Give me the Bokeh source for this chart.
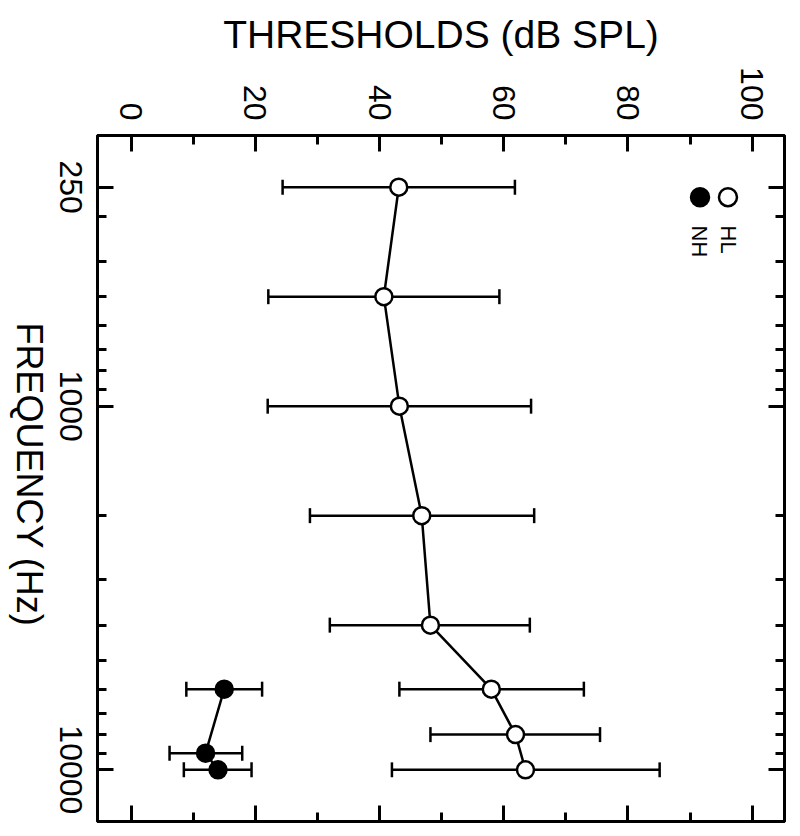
import math
from bokeh.plotting import figure
from bokeh.layouts import row
from bokeh.models import (Range1d, FixedTicker, LinearAxis, LogAxis, Label,
                          ColumnDataSource, CustomJSTickFormatter)
from bokeh.core.properties import value
from bokeh.embed import file_html
from bokeh.resources import INLINE

# ---- data ----
hl_freq = [250, 500, 1000, 2000, 4000, 6000, 8000, 10000]
hl_mean = [43.1, 40.7, 43.2, 46.8, 48.2, 58.0, 61.9, 63.5]
hl_lo = [24.4, 22.1, 22.0, 28.8, 32.0, 43.2, 48.2, 42.0]
hl_hi = [61.8, 59.3, 64.4, 64.9, 64.2, 72.9, 75.5, 85.1]

nh_freq = [6000, 9000, 10000]
nh_mean = [15.0, 12.0, 14.0]
nh_lo = [8.9, 6.2, 8.5]
nh_hi = [21.1, 17.9, 19.4]

x_ticks = [0, 20, 40, 60, 80, 100]
x_minor = [10, 30, 50, 70, 90]
y_ticks = [250, 1000, 10000]
y_tick_labels = ["250", "1000", "10000"]
y_minor = [300, 400, 500, 600, 700, 800, 900, 2000, 3000, 4000, 5000, 6000, 7000, 8000, 9000]

FONT = "Liberation Sans"
FW, FH = 687, 686
TOP, BOT = 135, 15
LW = 89          # width of the left label strip
MAIN_LEFT = 8    # left border of the main plot
Y_TOP, Y_BOT = 180.2, 13867

yr = Range1d(Y_BOT, Y_TOP)

p = figure(frame_width=FW, frame_height=FH,
           x_range=Range1d(-5.4, 105.2), y_range=yr,
           y_axis_type="log", x_axis_location="above",
           output_backend="svg", toolbar_location=None,
           min_border_left=MAIN_LEFT, min_border_right=16,
           min_border_top=TOP, min_border_bottom=BOT)
p.xgrid.visible = False
p.ygrid.visible = False
p.outline_line_color = "black"
p.outline_line_width = 3
p.background_fill_color = "white"
p.border_fill_color = "white"

p.title.text = "THRESHOLDS (dB SPL)"
p.title.align = "center"
p.title.text_font = FONT
p.title.text_font_size = "39px"
p.title.text_font_style = "normal"
p.title.text_color = "black"
p.title.standoff = 18

bottom = LinearAxis()
right = LogAxis()
p.add_layout(bottom, "below")
p.add_layout(right, "right")

for ax in [p.xaxis[0], bottom]:
    ax.ticker = FixedTicker(ticks=x_ticks, minor_ticks=x_minor)
for ax in [p.yaxis[0], right]:
    ax.ticker = FixedTicker(ticks=y_ticks, minor_ticks=y_minor)

for ax in [p.xaxis[0], bottom, p.yaxis[0], right]:
    ax.axis_line_width = 3
    ax.axis_line_color = "black"
    ax.major_tick_line_width = 3
    ax.minor_tick_line_width = 3
    ax.major_tick_line_color = "black"
    ax.minor_tick_line_color = "black"
    ax.major_tick_in = 16
    ax.major_tick_out = 0
    ax.minor_tick_in = 9
    ax.minor_tick_out = 0
    ax.axis_label = None

top = p.xaxis[0]
top.major_label_orientation = -math.pi / 2
top.major_label_text_font = FONT
top.major_label_text_font_size = "32px"
top.major_label_text_color = "black"
top.major_label_standoff = 15

blank = CustomJSTickFormatter(code="return ''")
for ax in [bottom, right, p.yaxis[0]]:
    ax.formatter = blank
    ax.major_label_standoff = 0

# ---- error bars, lines, points ----
hl_src = ColumnDataSource(dict(f=hl_freq, m=hl_mean, lo=hl_lo, hi=hl_hi))
nh_src = ColumnDataSource(dict(f=nh_freq, m=nh_mean, lo=nh_lo, hi=nh_hi))

for src in (hl_src, nh_src):
    p.segment(x0="lo", y0="f", x1="hi", y1="f", source=src, line_color="black", line_width=2.5)
    p.scatter(x="lo", y="f", source=src, marker="dash", angle=math.pi / 2, size=15,
              line_color="black", line_width=2.5)
    p.scatter(x="hi", y="f", source=src, marker="dash", angle=math.pi / 2, size=15,
              line_color="black", line_width=2.5)
    p.line(x="m", y="f", source=src, line_color="black", line_width=2.5)

p.scatter(x="m", y="f", source=hl_src, size=17, fill_color="white", line_color="black", line_width=2.5)
p.scatter(x="m", y="f", source=nh_src, size=17, fill_color="black", line_color="black", line_width=2.5)

# ---- legend (rotated) ----
p.scatter(x=[96.1], y=[266.2], size=18, fill_color="white", line_color="black", line_width=2.5)
p.scatter(x=[91.6], y=[266.2], size=18, fill_color="black", line_color="black", line_width=2.5)
for txt, sx in [("HL", 630.7), ("NH", 602.3)]:
    p.add_layout(Label(x=sx, y=596, x_units="screen", y_units="screen", text=txt,
                       angle=-math.pi / 2, text_align="left", text_baseline="middle",
                       text_font=FONT, text_font_size="22px", text_color="black"))

# ---- left strip: rotated tick labels and axis title ----
lf = figure(frame_width=LW, frame_height=FH, x_range=Range1d(0, LW), y_range=yr,
            y_axis_type="log", x_axis_location=None, y_axis_location=None,
            output_backend="svg", toolbar_location=None,
            min_border_left=0, min_border_right=0, min_border_top=TOP, min_border_bottom=BOT)
lf.xgrid.visible = False
lf.ygrid.visible = False
lf.outline_line_color = None
lf.background_fill_color = "white"
lf.border_fill_color = "white"

lf.text(x=[LW - 19] * len(y_ticks), y=y_ticks, text=y_tick_labels, angle=-math.pi / 2,
        text_align="center", text_baseline="middle", text_font=value(FONT),
        text_font_size="32px", text_color="black")

# axis title placed slightly above the frame's middle (log-interpolated)
frac = 0.494
f_mid = 10 ** (math.log10(Y_TOP) + frac * (math.log10(Y_BOT) - math.log10(Y_TOP)))
lf.text(x=[29], y=[f_mid], text=["FREQUENCY (Hz)"], angle=-math.pi / 2,
        text_align="center", text_baseline="middle", text_font=value(FONT),
        text_font_size="36px", text_color="black")

layout = row(lf, p)
open("out.html", "w").write(file_html(layout, INLINE))
